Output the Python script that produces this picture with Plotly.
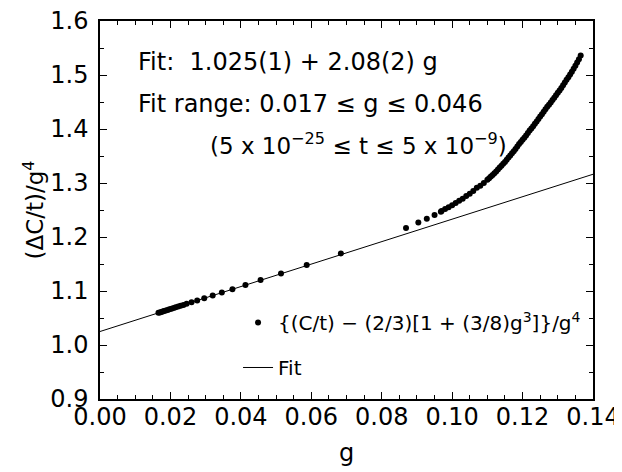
import plotly.graph_objects as go

# ---- data ----
g_sparse = [0.0166, 0.0170, 0.0174, 0.0178, 0.0182, 0.0187, 0.0192, 0.0197, 0.0203, 0.0209,
            0.0215, 0.0222, 0.0229, 0.0237, 0.0246, 0.0260, 0.0276, 0.0296, 0.0320, 0.0346,
            0.0376, 0.0413, 0.0456, 0.0514, 0.0587, 0.0684, 0.0869, 0.0904, 0.0928, 0.0950,
            0.0968]
v_sparse = [1.0595, 1.0604, 1.0612, 1.0620, 1.0629, 1.0639, 1.0649, 1.0660, 1.0672, 1.0685,
            1.0697, 1.0712, 1.0726, 1.0743, 1.0762, 1.0791, 1.0824, 1.0866, 1.0916, 1.0970,
            1.1032, 1.1112, 1.1204, 1.1325, 1.1480, 1.1695, 1.2168, 1.2270, 1.2340, 1.2406,
            1.2468]

g_dense = [0.097, 0.098, 0.099, 0.100, 0.101, 0.102, 0.103, 0.104, 0.105, 0.106,
           0.107, 0.108, 0.109, 0.110,
           0.1105, 0.1110, 0.1115, 0.1120, 0.1125, 0.1130, 0.1135, 0.1140, 0.1145, 0.1150,
           0.1155, 0.1160, 0.1165, 0.1170, 0.1175, 0.1180, 0.1185, 0.1190, 0.1195, 0.1200,
           0.1205, 0.1210, 0.1215, 0.1220, 0.1225, 0.1230, 0.1235, 0.1240, 0.1245, 0.1250,
           0.1255, 0.1260, 0.1265, 0.1270, 0.1275, 0.1280, 0.1285, 0.1290, 0.1295, 0.1300,
           0.1305, 0.1310, 0.1315, 0.1320, 0.1325, 0.1330, 0.1335, 0.1340, 0.1345, 0.1350,
           0.1355, 0.1360, 0.1365]
v_dense = [1.248, 1.252, 1.255, 1.259, 1.263, 1.267, 1.271, 1.276, 1.280, 1.285,
           1.291, 1.295, 1.300, 1.306,
           1.309, 1.312, 1.315, 1.318, 1.3215, 1.325, 1.3285, 1.332, 1.3355, 1.339,
           1.343, 1.347, 1.351, 1.355, 1.359, 1.363, 1.3675, 1.372, 1.376, 1.380,
           1.384, 1.388, 1.3925, 1.397, 1.401, 1.405, 1.4095, 1.414, 1.4185, 1.423,
           1.4275, 1.432, 1.4365, 1.441, 1.445, 1.449, 1.4535, 1.458, 1.4625, 1.467,
           1.4715, 1.476, 1.481, 1.486, 1.491, 1.496, 1.501, 1.506, 1.5115, 1.517,
           1.523, 1.529, 1.536]

fit_g = [0.0, 0.14]
fit_v = [1.025, 1.3162]

x_ticks = [0.00, 0.02, 0.04, 0.06, 0.08, 0.10, 0.12, 0.14]
y_ticks = [0.9, 1.0, 1.1, 1.2, 1.3, 1.4, 1.5, 1.6]

FONT = "DejaVu Sans"

fig = go.Figure()
fig.add_trace(go.Scatter(
    x=g_sparse + g_dense, y=v_sparse + v_dense, mode="markers",
    marker=dict(color="black", size=6, line=dict(width=0)),
    name="{(C/t) \u2212 (2/3)[1 + (3/8)g<sup>3</sup>]}/g<sup>4</sup>",
    legendgroup="a",
))
fig.add_trace(go.Scatter(
    x=fit_g, y=fit_v, mode="lines",
    line=dict(color="black", width=1),
    name="Fit", legendgroup="b",
))

axis_common = dict(
    showline=True, linecolor="black", linewidth=1.5, mirror="ticks",
    ticks="inside", ticklen=7, tickwidth=1, tickcolor="black",
    showgrid=False, zeroline=False, automargin=False,
    ticklabeloverflow="allow",
    tickfont=dict(family=FONT, size=24, color="black"),
)
fig.update_xaxes(
    range=[0, 0.14], tickvals=x_ticks, tickformat=".2f", ticklabelstandoff=-5,
    minor=dict(dtick=0.005, ticks="inside", ticklen=4, tickcolor="black", showgrid=False),
    title=dict(text="g", font=dict(family=FONT, size=24, color="black"), standoff=15),
    **axis_common,
)
fig.update_yaxes(
    range=[0.9, 1.6], tickvals=y_ticks, tickformat=".1f", ticklabelstandoff=5,
    minor=dict(dtick=0.05, ticks="inside", ticklen=4, tickcolor="black", showgrid=False),
    title=dict(text="(\u0394C/t)/g<sup>4</sup>", font=dict(family=FONT, size=23, color="black"), standoff=0),
    **axis_common,
)

ann_font = dict(family=FONT, size=24, color="black")
fig.add_annotation(xref="paper", yref="paper", x=0.073, y=0.8915, xanchor="left", yanchor="middle",
                   text="Fit:  1.025(1) + 2.08(2) g", showarrow=False, font=ann_font)
fig.add_annotation(xref="paper", yref="paper", x=0.073, y=0.780, xanchor="left", yanchor="middle",
                   text="Fit range: 0.017 \u2264 g \u2264 0.046", showarrow=False, font=ann_font)
fig.add_annotation(xref="paper", yref="paper", x=0.219, y=0.675, xanchor="left", yanchor="middle",
                   text="(5 x 10<sup>\u221225</sup> \u2264 t \u2264 5 x 10<sup>\u22129</sup>)",
                   showarrow=False, font=dict(family=FONT, size=23, color="black"))

fig.update_layout(
    width=622, height=464,
    margin=dict(l=92, r=37, t=13, b=73, autoexpand=False),
    paper_bgcolor="white", plot_bgcolor="white",
    showlegend=True,
    legend=dict(x=0.28, y=0.254, xanchor="left", yanchor="top",
                bgcolor="rgba(0,0,0,0)", borderwidth=0,
                font=dict(family=FONT, size=20, color="black"),
                traceorder="grouped", tracegroupgap=16),
    font=dict(family=FONT, color="black"),
)

fig.write_html("out.html")
